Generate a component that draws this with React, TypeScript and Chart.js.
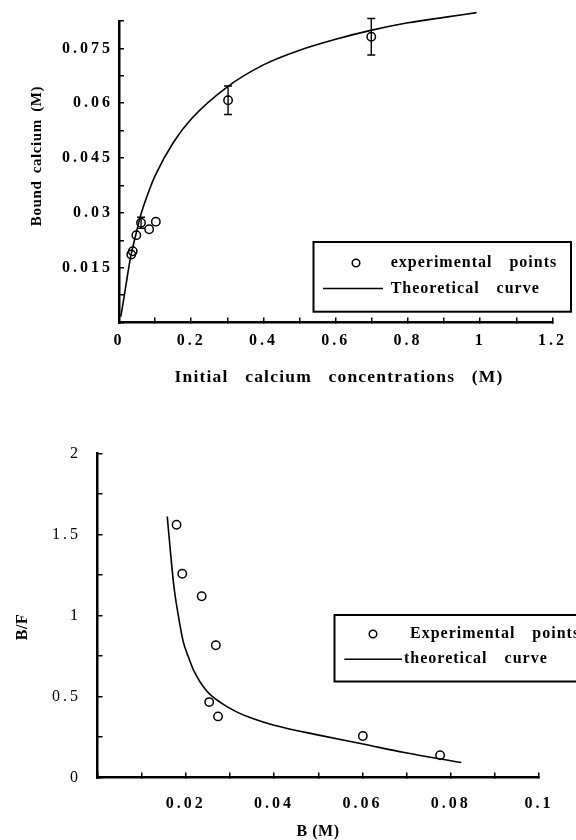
import React, { useEffect, useRef } from 'react';
import { Chart, registerables } from 'chart.js';

Chart.register(...registerables);

// ---------- Top chart: binding curve ----------
const initialConc = [0.034, 0.038, 0.048, 0.061, 0.0835, 0.102, 0.302, 0.6985];
const boundCalcium = [0.0186, 0.0195, 0.0239, 0.0273, 0.0255, 0.0276, 0.0608, 0.0782];
const boundError = [0, 0, 0, 0.0015, 0, 0, 0.0039, 0.005];
const curveConc = [0.005, 0.015, 0.032, 0.045, 0.059, 0.086, 0.1, 0.15, 0.2, 0.3, 0.4, 0.5, 0.6, 0.7, 0.8, 0.9, 0.99];
const curveBound = [0.0016, 0.0076, 0.0178, 0.0234, 0.029, 0.0368, 0.0402, 0.0492, 0.0557, 0.0645, 0.0705, 0.0745, 0.0775, 0.08, 0.082, 0.0835, 0.0848];
const topXTickLabels = ['0', '0.2', '0.4', '0.6', '0.8', '1', '1.2'];
const topYTickLabels = ['0.015', '0.03', '0.045', '0.06', '0.075'];

// ---------- Bottom chart: Scatchard plot ----------
const scatB = [0.0179, 0.0192, 0.0236, 0.0268, 0.0253, 0.0273, 0.0601, 0.0776];
const scatBF = [1.559, 1.257, 1.118, 0.816, 0.465, 0.377, 0.256, 0.137];
const scatCurveB = [0.0158, 0.0165, 0.0173, 0.0183, 0.0194, 0.0205, 0.0217, 0.0247, 0.028, 0.0315, 0.035, 0.04, 0.0504, 0.0604, 0.0695, 0.0824];
const scatCurveBF = [1.61, 1.4, 1.18, 1.0, 0.84, 0.75, 0.666, 0.535, 0.46, 0.405, 0.365, 0.322, 0.26, 0.205, 0.154, 0.092];
const botXTickLabels = ['0.02', '0.04', '0.06', '0.08', '0.1'];
const botYTickLabels = ['0', '0.5', '1', '1.5', '2'];

const FONT = '"Liberation Serif", "Times New Roman", serif';

const labelFor = (labels: string[]) => (value: number | string) => {
  const v = typeof value === 'string' ? parseFloat(value) : value;
  const hit = labels.find((l) => Math.abs(parseFloat(l) - v) < 1e-9);
  return hit ?? '';
};

const zip = (xs: number[], ys: number[]) => xs.map((x, i) => ({ x, y: ys[i] }));

type OverlayCfg = {
  tickSpacing: string;
  titles: { text: string; x: number; y: number; rotate?: boolean; font: string; word: string; letter: string }[];
  legend: {
    left: number; top: number; right: number; bottom: number;
    row1: number; row2: number; markerX: number; lineX1: number; lineX2: number;
    text1X: number; text2X: number; font: string;
  };
  errors?: { xs: number[]; ys: number[]; err: number[] };
};

function overlayPlugin(cfg: OverlayCfg) {
  return {
    id: 'overlay',
    beforeDraw(chart: any) {
      chart.ctx.letterSpacing = cfg.tickSpacing;
    },
    afterDatasetsDraw(chart: any) {
      if (!cfg.errors) return;
      const { ctx } = chart;
      const xs = chart.scales.x;
      const ys = chart.scales.y;
      ctx.save();
      ctx.strokeStyle = '#000';
      ctx.lineWidth = 1.4;
      cfg.errors.xs.forEach((xv, i) => {
        const e = cfg.errors!.err[i];
        if (!e) return;
        const px = xs.getPixelForValue(xv);
        const y1 = ys.getPixelForValue(cfg.errors!.ys[i] + e);
        const y2 = ys.getPixelForValue(cfg.errors!.ys[i] - e);
        ctx.beginPath();
        ctx.moveTo(px, y1); ctx.lineTo(px, y2);
        ctx.moveTo(px - 4, y1); ctx.lineTo(px + 4, y1);
        ctx.moveTo(px - 4, y2); ctx.lineTo(px + 4, y2);
        ctx.stroke();
      });
      ctx.restore();
    },
    afterDraw(chart: any) {
      const ctx = chart.ctx;
      ctx.save();
      ctx.fillStyle = '#000';
      ctx.strokeStyle = '#000';
      for (const t of cfg.titles) {
        ctx.save();
        ctx.font = t.font;
        ctx.letterSpacing = t.letter;
        ctx.wordSpacing = t.word;
        ctx.translate(t.x, t.y);
        if (t.rotate) ctx.rotate(-Math.PI / 2);
        ctx.textAlign = 'center';
        ctx.textBaseline = 'middle';
        ctx.fillText(t.text, 0, 0);
        ctx.restore();
      }
      const L = cfg.legend;
      const pts = chart.data.datasets[0];
      const cur = chart.data.datasets[1];
      ctx.lineWidth = 2;
      ctx.strokeRect(L.left, L.top, L.right - L.left, L.bottom - L.top);
      ctx.beginPath();
      ctx.lineWidth = pts.borderWidth;
      ctx.arc(L.markerX, L.row1, 3.8, 0, Math.PI * 2);
      ctx.stroke();
      ctx.beginPath();
      ctx.lineWidth = cur.borderWidth;
      ctx.moveTo(L.lineX1, L.row2);
      ctx.lineTo(L.lineX2, L.row2);
      ctx.stroke();
      ctx.font = L.font;
      ctx.textAlign = 'left';
      ctx.textBaseline = 'middle';
      ctx.letterSpacing = '1px';
      ctx.wordSpacing = '12px';
      ctx.fillText(pts.label, L.text1X, L.row1);
      ctx.fillText(cur.label, L.text2X, L.row2);
      ctx.restore();
    },
  };
}

const axisCommon = (labels: string[], step: number, padding: number, weight: string, afterFit: (s: any) => void) => ({
  type: 'linear' as const,
  afterFit,
  ticks: {
    stepSize: step,
    autoSkip: false,
    maxRotation: 0,
    padding,
    color: '#000',
    font: { family: FONT, size: 16, weight },
    callback: labelFor(labels),
  },
  grid: { display: true, drawOnChartArea: false, drawTicks: true, tickLength: -5, color: '#000', lineWidth: 1.5 },
  border: { display: true, color: '#000', width: 2.5 },
});

function buildTop(canvas: HTMLCanvasElement) {
  return new Chart(canvas, {
    type: 'scatter',
    data: {
      datasets: [
        {
          label: 'experimental points',
          data: zip(initialConc, boundCalcium),
          pointStyle: 'circle',
          pointRadius: 4.2,
          borderWidth: 1.5,
          borderColor: '#000',
          backgroundColor: 'rgba(0,0,0,0)',
          showLine: false,
        },
        {
          label: 'Theoretical curve',
          data: zip(curveConc, curveBound),
          showLine: true,
          borderColor: '#000',
          borderWidth: 1.6,
          pointRadius: 0,
          cubicInterpolationMode: 'monotone',
          fill: false,
          clip: false,
        } as any,
      ],
    },
    options: {
      responsive: false,
      animation: false,
      devicePixelRatio: 1,
      layout: { padding: { left: 0, top: 21, right: 16.5, bottom: 0 } },
      plugins: { legend: { display: false }, tooltip: { enabled: false } },
      scales: {
        x: { ...axisCommon(topXTickLabels, 0.1, 13.6, 'bold', (s) => { s.height = 97.5; }), min: 0, max: 1.2 },
        y: { ...axisCommon(topYTickLabels, 0.0075, 11, 'bold', (s) => { s.width = 119; }), min: 0, max: 0.0825 },
      },
    } as any,
    plugins: [
      overlayPlugin({
        tickSpacing: '3px',
        titles: [
          { text: 'Bound calcium (M)', x: 37, y: 156, rotate: true, font: `bold 15px ${FONT}`, letter: '0.6px', word: '3px' },
          { text: 'Initial calcium concentrations (M)', x: 339, y: 377, font: `bold 17.5px ${FONT}`, letter: '1.2px', word: '11px' },
        ],
        legend: {
          left: 313.5, top: 242, right: 571, bottom: 311.7,
          row1: 263, row2: 288.5, markerX: 356, lineX1: 323, lineX2: 383,
          text1X: 390.7, text2X: 390.7, font: `bold 16px ${FONT}`,
        },
        errors: { xs: initialConc, ys: boundCalcium, err: boundError },
      }) as any,
    ],
  });
}

function buildBottom(canvas: HTMLCanvasElement) {
  return new Chart(canvas, {
    type: 'scatter',
    data: {
      datasets: [
        {
          label: 'Experimental points',
          data: zip(scatB, scatBF),
          pointStyle: 'circle',
          pointRadius: 4.2,
          borderWidth: 1.5,
          borderColor: '#000',
          backgroundColor: 'rgba(0,0,0,0)',
          showLine: false,
        },
        {
          label: 'theoretical curve',
          data: zip(scatCurveB, scatCurveBF),
          showLine: true,
          borderColor: '#000',
          borderWidth: 1.6,
          pointRadius: 0,
          cubicInterpolationMode: 'monotone',
          fill: false,
          clip: false,
        } as any,
      ],
    },
    options: {
      responsive: false,
      animation: false,
      devicePixelRatio: 1,
      layout: { padding: { left: 0, top: 33.3, right: 37, bottom: 0 } },
      plugins: { legend: { display: false }, tooltip: { enabled: false } },
      scales: {
        x: { ...axisCommon(botXTickLabels, 0.01, 22.2, 'bold', (s) => { s.height = 62.5; }), min: 0, max: 0.1 },
        y: { ...axisCommon(botYTickLabels, 0.25, 21.5, 'normal', (s) => { s.width = 97.5; }), min: 0, max: 2 },
      },
    } as any,
    plugins: [
      overlayPlugin({
        tickSpacing: '3px',
        titles: [
          { text: 'B/F', x: 23, y: 207, rotate: true, font: `bold 16px ${FONT}`, letter: '0.5px', word: '0px' },
          { text: 'B (M)', x: 318, y: 411.5, font: `bold 16px ${FONT}`, letter: '0.5px', word: '0px' },
        ],
        legend: {
          left: 334.5, top: 195, right: 600, bottom: 261.5,
          row1: 214, row2: 239.3, markerX: 373, lineX1: 344.3, lineX2: 402,
          text1X: 410, text2X: 404, font: `bold 16px ${FONT}`,
        },
      }) as any,
    ],
  });
}

function ChartCanvas({ build }: { build: (c: HTMLCanvasElement) => Chart }) {
  const ref = useRef<HTMLCanvasElement>(null);
  useEffect(() => {
    const chart = build(ref.current!);
    return () => chart.destroy();
  }, [build]);
  return <canvas ref={ref} width={576} height={420} style={{ display: 'block', width: 576, height: 420 }} />;
}

export default function App() {
  return (
    <div style={{ position: 'absolute', left: 0, top: 0, width: 576, height: 840, background: '#fff', overflow: 'hidden' }}>
      <ChartCanvas build={buildTop} />
      <ChartCanvas build={buildBottom} />
    </div>
  );
}
